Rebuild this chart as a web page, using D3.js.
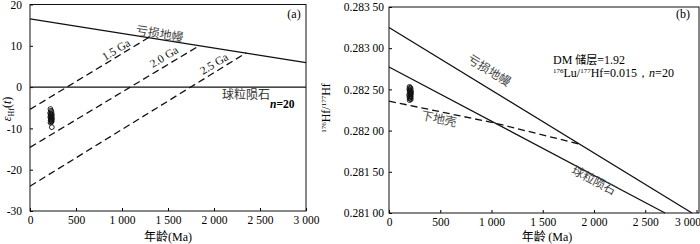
<!DOCTYPE html>
<html lang="zh">
<head>
<meta charset="utf-8">
<title>εHf(t) 与 176Hf/177Hf 年龄图</title>
<script src="https://cdn.jsdelivr.net/npm/d3@7"></script>
<style>
  body { margin: 0; background: #fff; }
  svg text { font-family: "Liberation Serif", "Times New Roman", serif; fill: #000; }
  .cjk { font-family: "Noto Sans CJK SC", sans-serif; }
</style>
</head>
<body>
<script>
// ---- data ----
var xTicks = [0, 500, 1000, 1500, 2000, 2500, 3000];
var yTicksA = [-30, -20, -10, 0, 10, 20];
var yTicksB = [0.281, 0.2815, 0.282, 0.2825, 0.283, 0.2835];

// panel (a): lines [age, εHf]
var dmA = [[0, 16.5], [3000, 5.9]];
var churA = [[0, 0], [3000, 0]];
var ga15 = [[0, -5.4], [1290, 12.0]];
var ga20 = [[0, -14.6], [1830, 9.9]];
var ga25 = [[0, -24.0], [2350, 8.3]];
var agesA = [222, 228, 233, 219, 226, 238, 230, 224, 235, 221, 229, 240, 227, 232, 225, 236, 231, 223, 234, 237];
var ehf   = [-5.3, -5.7, -6.0, -6.3, -6.5, -6.6, -6.8, -7.0, -7.1, -7.3, -7.4, -7.6, -7.8, -7.9, -8.1, -8.2, -8.4, -8.6, -8.3, -9.7];

// panel (b): lines [age, 176Hf/177Hf]
var dmB = [[0, 0.283252], [2956, 0.281]];
var churB = [[0, 0.282772], [2693, 0.281]];
var lcB = [[0, 0.282358], [1030, 0.282092], [1880, 0.28183]];
var agesB = [200, 206, 212, 198, 204, 210, 216, 202, 208, 214, 196, 205, 211, 200, 207, 213, 203, 209, 201, 210];
var hfr   = [0.28253, 0.28252, 0.28251, 0.28250, 0.28249, 0.28248, 0.28247, 0.28246, 0.28245, 0.28244,
             0.28243, 0.28242, 0.28241, 0.28240, 0.28239, 0.28238, 0.28248, 0.28244, 0.28237, 0.28241];

var width = 700, height = 244;
var svg = d3.select("body").append("svg")
            .attr("width", width)
            .attr("height", height);

var xa = d3.scaleLinear().domain([0, 3000]).range([30, 306]);
var ya = d3.scaleLinear().domain([-30, 20]).range([211, 4.5]);
var xb = d3.scaleLinear().domain([0, 3000]).range([389, 696.5]);
var yb = d3.scaleLinear().domain([0.281, 0.2835]).range([213, 7]);

var fmtX = function(d) { return d3.format(",")(d).replace(",", " "); };
var fmtB = function(d) { var s = d3.format(".5f")(d); return s.slice(0, 5) + " " + s.slice(5); };
var fmtA = function(d) { return d < 0 ? "-" + Math.abs(d) : "" + d; };

function drawAxes(x, y, yTicks, yFmt, yPad, frameRight) {
  var gx = svg.append("g")
     .attr("transform", "translate(0," + y.range()[0] + ")")
     .call(d3.axisBottom(x).tickValues(xTicks).tickSize(-3).tickPadding(5).tickFormat(fmtX));
  gx.select(".domain").remove();
  gx.selectAll("text").attr("font-size", 11.5).attr("font-family", "Liberation Serif");

  var gy = svg.append("g")
     .attr("transform", "translate(" + x.range()[0] + ",0)")
     .call(d3.axisLeft(y).tickValues(yTicks).tickSize(-3).tickPadding(yPad).tickFormat(yFmt));
  gy.select(".domain").remove();
  gy.selectAll("text").attr("font-size", 11.5).attr("font-family", "Liberation Serif");

  svg.append("rect")
     .attr("x", x.range()[0]).attr("y", y.range()[1])
     .attr("width", frameRight - x.range()[0])
     .attr("height", y.range()[0] - y.range()[1])
     .attr("fill", "none").attr("stroke", "#111").attr("stroke-width", 1);
  return gx;
}

function drawLine(x, y, pts, dashed, w) {
  var line = d3.line().x(function(d) { return x(d[0]); }).y(function(d) { return y(d[1]); });
  svg.append("path")
     .attr("d", line(pts))
     .attr("fill", "none")
     .attr("stroke", "#111")
     .attr("stroke-width", w || 1.2)
     .attr("stroke-dasharray", dashed ? "7,4" : null);
}

function angleOf(x, y, pts) {
  var a = pts[0], b = pts[pts.length - 1];
  return Math.atan2(y(b[1]) - y(a[1]), x(b[0]) - x(a[0])) * 180 / Math.PI;
}

function label(px, py, rot, txt, cls, size, fill) {
  svg.append("text")
     .attr("class", cls || null)
     .attr("transform", "translate(" + px + "," + py + ") rotate(" + rot + ")")
     .attr("text-anchor", "middle")
     .attr("font-size", size || 12)
     .style("fill", fill || "#111")
     .text(txt);
}

// ---------- panel (a) ----------
drawAxes(xa, ya, yTicksA, fmtA, 8, 306);
drawLine(xa, ya, dmA, false, 1.3);
drawLine(xa, ya, churA, false, 1.3);
drawLine(xa, ya, ga15, true, 1.3);
drawLine(xa, ya, ga20, true, 1.3);
drawLine(xa, ya, ga25, true, 1.3);

svg.append("g").selectAll("circle")
   .data(agesA.map(function(d, i) { return [d, ehf[i]]; }))
   .enter().append("circle")
   .attr("cx", function(d) { return xa(d[0]); })
   .attr("cy", function(d) { return ya(d[1]); })
   .attr("r", 2.4)
   .attr("fill", "none").attr("stroke", "#111").attr("stroke-width", 0.9);

label(159, 38, angleOf(xa, ya, dmA), "亏损地幔", "cjk", 12, "#444");
label(118, 53, angleOf(xa, ya, ga15), "1.5 Ga", null, 11.5);
label(166, 60, angleOf(xa, ya, ga20), "2.0 Ga", null, 11.5);
label(216, 67, angleOf(xa, ya, ga25), "2.5 Ga", null, 11.5);
label(246, 99, 0, "球粒陨石", "cjk", 12, "#333");

var nA = svg.append("text").attr("x", 270).attr("y", 108).attr("font-size", 11.5).attr("font-weight", "bold");
nA.append("tspan").attr("font-style", "italic").text("n");
nA.append("tspan").text("=20");

svg.append("text").attr("x", 294).attr("y", 18).attr("text-anchor", "middle").attr("font-size", 12).text("(a)");

// y label (a)
var yla = svg.append("text")
   .attr("transform", "translate(11,109) rotate(-90)")
   .attr("text-anchor", "middle").attr("font-size", 12);
yla.append("tspan").attr("font-style", "italic").text("ε");
yla.append("tspan").attr("font-size", 8).attr("dy", 3).text("Hf");
yla.append("tspan").attr("dy", -3).text("(");
yla.append("tspan").attr("font-style", "italic").text("t");
yla.append("tspan").text(")");

// x label (a)
var xla = svg.append("text").attr("x", 168).attr("y", 241).attr("text-anchor", "middle").attr("font-size", 12);
xla.append("tspan").attr("class", "cjk").text("年龄");
xla.append("tspan").text("(Ma)");

// ---------- panel (b) ----------
var gxb = drawAxes(xb, yb, yTicksB, fmtB, 5, 699);
gxb.selectAll(".tick text").filter(function(d) { return d === 3000; }).attr("dx", -9);
drawLine(xb, yb, dmB, false, 1.3);
drawLine(xb, yb, churB, false, 1.3);
drawLine(xb, yb, lcB, true, 1.3);

svg.append("g").selectAll("circle")
   .data(agesB.map(function(d, i) { return [d, hfr[i]]; }))
   .enter().append("circle")
   .attr("cx", function(d) { return xb(d[0]); })
   .attr("cy", function(d) { return yb(d[1]); })
   .attr("r", 2.4)
   .attr("fill", "none").attr("stroke", "#111").attr("stroke-width", 0.9);

label(487, 74, angleOf(xb, yb, dmB), "亏损地幔", "cjk", 12, "#444");
label(438, 123, 12, "下地壳", "cjk", 12, "#444");
label(592, 184, angleOf(xb, yb, churB), "球粒陨石", "cjk", 12, "#444");

var dmt = svg.append("text").attr("x", 553).attr("y", 64).attr("font-size", 12);
dmt.append("tspan").text("DM ");
dmt.append("tspan").attr("class", "cjk").attr("font-size", 11).text("储层");
dmt.append("tspan").text("=1.92");

var lut = svg.append("text").attr("x", 553).attr("y", 77).attr("font-size", 12);
lut.append("tspan").attr("font-size", 7).attr("dy", -4).text("176");
lut.append("tspan").attr("dy", 4).text("Lu/");
lut.append("tspan").attr("font-size", 7).attr("dy", -4).text("177");
lut.append("tspan").attr("dy", 4).text("Hf=0.015，");
lut.append("tspan").attr("font-style", "italic").text("n");
lut.append("tspan").text("=20");

svg.append("text").attr("x", 683).attr("y", 18).attr("text-anchor", "middle").attr("font-size", 12).text("(b)");

// y label (b)
var ylb = svg.append("text")
   .attr("transform", "translate(330,108) rotate(-90)")
   .attr("text-anchor", "middle").attr("font-size", 12);
ylb.append("tspan").attr("font-size", 7).attr("dy", -4).text("176");
ylb.append("tspan").attr("dy", 4).text("Hf/");
ylb.append("tspan").attr("font-size", 7).attr("dy", -4).text("177");
ylb.append("tspan").attr("dy", 4).text("Hf");

// x label (b)
var xlb = svg.append("text").attr("x", 547).attr("y", 241).attr("text-anchor", "middle").attr("font-size", 12);
xlb.append("tspan").attr("class", "cjk").text("年龄 ");
xlb.append("tspan").text("(Ma)");
</script>
</body>
</html>
